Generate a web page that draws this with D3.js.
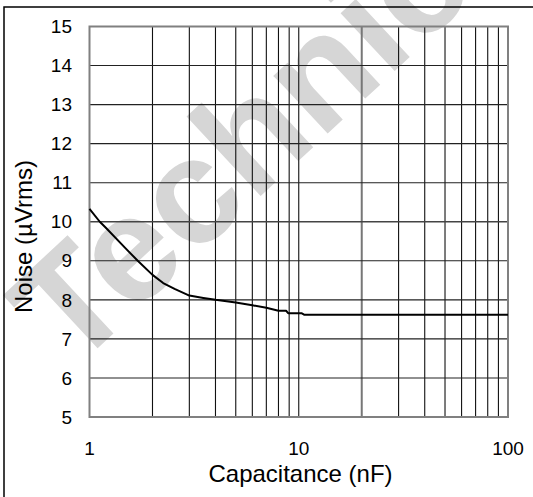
<html>
  <head>
    <meta charset="utf-8" />
    <script src="https://d3js.org/d3.v7.min.js"></script>
    <style>
      body { margin: 0; background: #fff; }
    </style>
  </head>
  <body>
    <div class="container"></div>
  </body>
</html>

<script>
  // values
  const capacitance = [1, 1.12, 1.2, 1.5, 1.7, 2, 2.25, 2.55, 3, 3.5, 4, 5, 6, 7, 8, 8.7, 8.9, 10.3, 10.6, 20, 50, 100];
  const noise = [10.33, 10.0, 9.84, 9.3, 9.0, 8.64, 8.43, 8.28, 8.11, 8.05, 8.0, 7.93, 7.86, 7.8, 7.72, 7.72, 7.66, 7.66, 7.62, 7.62, 7.62, 7.62];
  const yTicks = [5, 6, 7, 8, 9, 10, 11, 12, 13, 14, 15];
  const xTicks = [1, 10, 100];

  const width = 533;
  const height = 497;
  const margin = { top: 26.5, right: 25, bottom: 80, left: 89.5 };

  const svg = d3
    .select(".container")
    .append("svg")
    .attr("width", width)
    .attr("height", height)
    .attr("font-family", "Arial, 'Liberation Sans', sans-serif");

  const x = d3.scaleLog().domain([1, 100]).range([margin.left, width - margin.right]);
  const y = d3.scaleLinear().domain([5, 15]).range([height - margin.bottom, margin.top]);

  // watermark
  svg
    .append("text")
    .attr("transform", "translate(72,372) rotate(-43)")
    .attr("font-size", 150)
    .attr("font-weight", "bold")
    .attr("fill", "#d6d6d6")
    .text("Technical");

  // outer frame (cut at right and bottom)
  svg
    .append("path")
    .attr("fill", "none")
    .attr("stroke", "#000")
    .attr("stroke-width", 1.5)
    .attr("d", `M4,${height + 2}V7H${width + 2}`);

  // grid lines
  const minor = [];
  for (let d = 1; d < 100; d *= 10) for (let k = 2; k <= 9; k++) minor.push(d * k);
  minor.push(10);

  const grid = svg.append("g");
  grid
    .selectAll("line.v")
    .data(minor)
    .join("line")
    .attr("x1", (d) => x(d))
    .attr("x2", (d) => x(d))
    .attr("y1", y(15))
    .attr("y2", y(5))
    .attr("stroke", (d) => (d === 20 ? "#777" : "#111"))
    .attr("stroke-width", (d) => (d === 20 ? 2 : 1.1));

  grid
    .selectAll("line.h")
    .data(yTicks.slice(1, -1))
    .join("line")
    .attr("x1", x(1))
    .attr("x2", x(100))
    .attr("y1", (d) => y(d))
    .attr("y2", (d) => y(d))
    .attr("stroke", (d) => (d === 10 ? "#444" : "#222"))
    .attr("stroke-width", (d) => (d === 10 ? 1.6 : 1.1));

  grid
    .append("rect")
    .attr("x", x(1))
    .attr("y", y(15))
    .attr("width", x(100) - x(1))
    .attr("height", y(5) - y(15))
    .attr("fill", "none")
    .attr("stroke", "#808080")
    .attr("stroke-width", 2);

  // curve
  svg
    .append("path")
    .datum(d3.range(capacitance.length))
    .attr("fill", "none")
    .attr("stroke", "#000")
    .attr("stroke-width", 2)
    .attr("stroke-linejoin", "round")
    .attr(
      "d",
      d3
        .line()
        .x((i) => x(capacitance[i]))
        .y((i) => y(noise[i]))
    );

  // tick labels
  svg
    .append("g")
    .attr("font-size", 19)
    .attr("text-anchor", "end")
    .selectAll("text")
    .data(yTicks)
    .join("text")
    .attr("x", 72)
    .attr("y", (d) => y(d))
    .attr("dy", "0.35em")
    .text((d) => d);

  svg
    .append("g")
    .attr("font-size", 19)
    .attr("text-anchor", "middle")
    .selectAll("text")
    .data(xTicks)
    .join("text")
    .attr("x", (d) => x(d))
    .attr("y", 455)
    .text((d) => d);

  // axis titles
  svg
    .append("text")
    .attr("x", 300.5)
    .attr("y", 482)
    .attr("font-size", 24)
    .attr("text-anchor", "middle")
    .text("Capacitance (nF)");

  svg
    .append("text")
    .attr("transform", "translate(32,236.5) rotate(-90)")
    .attr("font-size", 24)
    .attr("text-anchor", "middle")
    .text("Noise (\u00b5Vrms)");
</script>
